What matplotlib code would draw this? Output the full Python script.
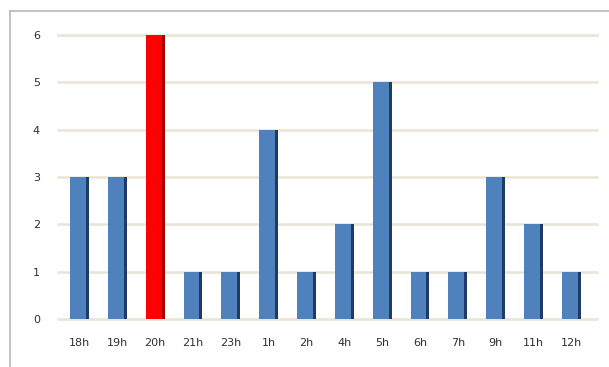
import matplotlib
matplotlib.use('Agg')
import matplotlib.pyplot as plt
from matplotlib.lines import Line2D

hours = ['18h', '19h', '20h', '21h', '23h', '1h', '2h', '4h', '5h', '6h', '7h', '9h', '11h', '12h']
counts = [3, 3, 6, 1, 1, 4, 1, 2, 5, 1, 1, 3, 2, 1]
highlight = '20h'

W, H = 609, 367
fig = plt.figure(figsize=(W / 100, H / 100), dpi=100)
fig.patch.set_facecolor('white')

# outer frame (top and left only)
fig.add_artist(Line2D([10 / W, 1], [1 - 11 / H, 1 - 11 / H], color='#b8b8b8', lw=1.2))
fig.add_artist(Line2D([10 / W, 10 / W], [0, 1 - 11 / H], color='#b8b8b8', lw=1.2))

ax = fig.add_axes([58 / W, (H - 319) / H, (597 - 58) / W, (319 - 35) / H])
x = list(range(len(hours)))
bw = 0.5
for i, (h, c) in enumerate(zip(hours, counts)):
    if h == highlight:
        face, dark = '#ff0000', '#a80000'
    else:
        face, dark = '#4f81bd', '#1f3a66'
    ax.bar(i, c, width=bw, color=face, zorder=3)
    # darker right side for the bevelled look
    ax.bar(i + bw / 2 - 0.04, c, width=0.08, color=dark, zorder=4)

ax.set_xlim(-0.57, 13.68)
ax.set_ylim(0, 6)
ax.set_yticks(range(7))
ax.set_xticks(x)
ax.set_xticklabels(hours)
ax.yaxis.grid(True, color='#ebe4d4', lw=1.8, zorder=0)
for gl in ax.get_ygridlines():
    gl.set_clip_on(False)
ax.set_axisbelow(True)
for s in ax.spines.values():
    s.set_visible(False)
ax.tick_params(length=0, colors='#303030', labelsize=8)
ax.tick_params(axis='y', pad=13)
ax.tick_params(axis='x', pad=14)

fig.savefig('out.png', dpi=100)
